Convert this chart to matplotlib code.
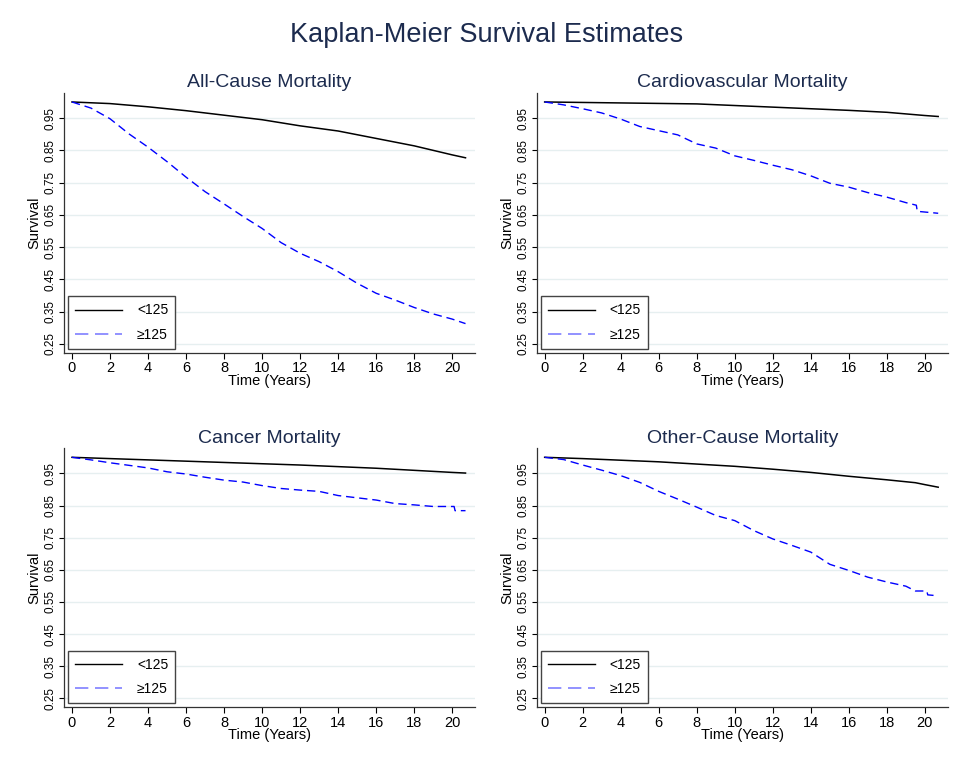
import matplotlib
matplotlib.use("Agg")
import matplotlib.pyplot as plt
from matplotlib.lines import Line2D

plt.rcParams["font.family"] = ["Liberation Sans", "DejaVu Sans"]

# Kaplan-Meier estimates (time in years, survival)
ACM_LO_T = [0, 2, 4, 6, 8, 10, 12, 14, 16, 18, 20, 20.7]
ACM_LO_S = [1.0, 0.995, 0.985, 0.973, 0.959, 0.945, 0.926, 0.910, 0.887, 0.864, 0.836, 0.827]
ACM_HI_T = [0, 1, 2, 3, 4, 5, 6, 7, 8, 9, 10, 11, 12, 13, 14, 15, 16, 17, 18, 19, 20, 20.7]
ACM_HI_S = [1.0, 0.981, 0.948, 0.901, 0.860, 0.815, 0.767, 0.722, 0.684, 0.645, 0.608,
            0.564, 0.531, 0.505, 0.474, 0.438, 0.407, 0.386, 0.363, 0.343, 0.327, 0.313]

CVM_LO_T = [0, 4, 8, 10, 12, 14, 16, 18, 20, 20.7]
CVM_LO_S = [1.0, 0.997, 0.994, 0.989, 0.984, 0.979, 0.974, 0.968, 0.958, 0.955]
CVM_HI_T = [0, 1, 2, 3, 4, 5, 6, 7, 8, 9, 10, 11, 12, 13, 14, 15, 16, 17, 18, 19,
            19.55, 19.6, 20.7]
CVM_HI_S = [1.0, 0.991, 0.979, 0.966, 0.947, 0.924, 0.911, 0.898, 0.870, 0.857, 0.833,
            0.819, 0.804, 0.790, 0.771, 0.748, 0.736, 0.719, 0.705, 0.688, 0.680, 0.661, 0.655]

CAN_LO_T = [0, 4, 8, 12, 16, 20, 20.7]
CAN_LO_S = [1.0, 0.992, 0.984, 0.976, 0.966, 0.953, 0.951]
CAN_HI_T = [0, 1, 2, 3, 4, 5, 6, 7, 8, 9, 10, 11, 12, 13, 14, 15, 16, 17, 18, 19,
            20.1, 20.15, 20.7]
CAN_HI_S = [1.0, 0.992, 0.983, 0.975, 0.967, 0.955, 0.948, 0.938, 0.929, 0.923, 0.912,
            0.903, 0.898, 0.894, 0.881, 0.874, 0.867, 0.856, 0.852, 0.847, 0.847, 0.834, 0.834]

OCM_LO_T = [0, 2, 4, 6, 8, 10, 12, 14, 16, 18, 19.5, 20, 20.7]
OCM_LO_S = [1.0, 0.996, 0.991, 0.986, 0.979, 0.972, 0.963, 0.953, 0.941, 0.930, 0.921,
            0.915, 0.907]
OCM_HI_T = [0, 1, 2, 3, 4, 5, 6, 7, 8, 9, 10, 11, 12, 13, 14, 15, 16, 17, 18, 19,
            19.5, 20.1, 20.15, 20.7]
OCM_HI_S = [1.0, 0.993, 0.976, 0.960, 0.943, 0.922, 0.894, 0.870, 0.845, 0.819, 0.803,
            0.772, 0.746, 0.726, 0.705, 0.667, 0.648, 0.627, 0.612, 0.599, 0.584, 0.584,
            0.572, 0.569]

TITLES = ["All-Cause Mortality", "Cardiovascular Mortality",
          "Cancer Mortality", "Other-Cause Mortality"]
GROUPS = ["<125", "\u2265125"]
YTICKS = [0.25, 0.35, 0.45, 0.55, 0.65, 0.75, 0.85, 0.95]
XTICKS = list(range(0, 21, 2))

PANELS = [
    (ACM_LO_T, ACM_LO_S, ACM_HI_T, ACM_HI_S),
    (CVM_LO_T, CVM_LO_S, CVM_HI_T, CVM_HI_S),
    (CAN_LO_T, CAN_LO_S, CAN_HI_T, CAN_HI_S),
    (OCM_LO_T, OCM_LO_S, OCM_HI_T, OCM_HI_S),
]

NAVY = "#1c2b4e"
GRID = "#e6eff0"
BLUE = "#0000ff"

fig = plt.figure(figsize=(9.74, 7.79), dpi=100, facecolor="white")
fig.text(0.5, 0.955, "Kaplan-Meier Survival Estimates", ha="center", va="center",
         fontsize=19.5, color=NAVY)

boxes = [
    [0.0657, 0.5469, 0.422, 0.3338],
    [0.551, 0.5469, 0.422, 0.3338],
    [0.0657, 0.092, 0.422, 0.3325],
    [0.551, 0.092, 0.422, 0.3325],
]

for box, title, (lt, ls, ht, hs) in zip(boxes, TITLES, PANELS):
    ax = fig.add_axes(box)
    ax.plot(lt, ls, color="black", lw=1.1, solid_joinstyle="round")
    ax.plot(ht, hs, color=BLUE, lw=1.0, dashes=(6, 3.5))
    ax.set_xlim(-0.42, 21.2)
    ax.set_ylim(0.222, 1.028)
    ax.set_xticks(XTICKS)
    ax.set_yticks(YTICKS)
    ax.set_yticklabels([f"{v:.2f}" for v in YTICKS], rotation=90, va="center")
    ax.tick_params(axis="x", direction="out", length=4, width=0.8, labelsize=10.5, pad=2)
    ax.tick_params(axis="y", direction="out", length=3.5, width=0.8, labelsize=8.5, pad=2)
    ax.grid(axis="y", color=GRID, lw=1.0)
    ax.set_axisbelow(True)
    for side in ("top", "right"):
        ax.spines[side].set_visible(False)
    for side in ("left", "bottom"):
        ax.spines[side].set_color("#333333")
        ax.spines[side].set_linewidth(0.9)
    ax.set_title(title, fontsize=14, color=NAVY, pad=4)
    ax.set_xlabel("Time (Years)", fontsize=10.5, labelpad=-1)
    ax.set_ylabel("Survival", fontsize=10.5, labelpad=2)

    handles = [Line2D([], [], color="black", lw=1.0),
               Line2D([], [], color="#7f7fff", lw=1.2, dashes=(8, 4))]
    leg = ax.legend(handles, GROUPS, loc="lower left", fontsize=10,
                    handlelength=3.4, handletextpad=1.05, labelspacing=0.75,
                    borderpad=0.5, borderaxespad=0.3, fancybox=False,
                    framealpha=1, edgecolor="#444444")
    leg.get_frame().set_linewidth(1.0)

fig.savefig("out.png", dpi=100, facecolor="white")
